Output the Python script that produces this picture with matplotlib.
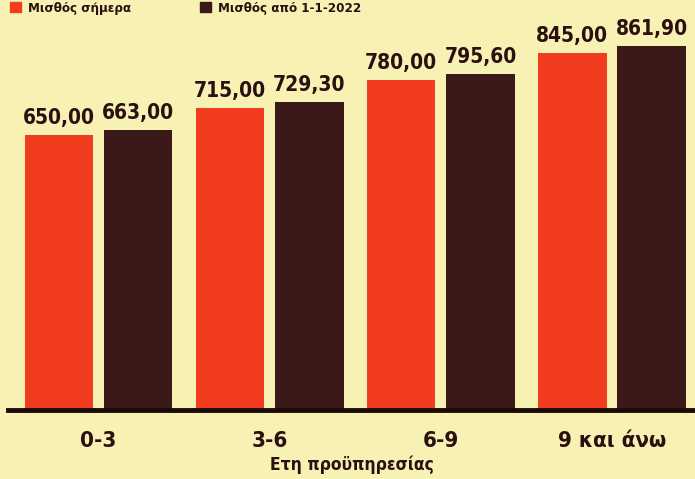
import matplotlib.pyplot as plt
import numpy as np

# data
categories = ["0-3", "3-6", "6-9", "9 και άνω"]
salary_now = [650.00, 715.00, 780.00, 845.00]
salary_2022 = [663.00, 729.30, 795.60, 861.90]
legend_labels = ["Μισθός σήμερα", "Μισθός από 1-1-2022"]

bg = "#f8f1b4"
red = "#f23c1f"
dark = "#3b1919"
txt = "#2a1010"

font = "DejaVu Sans"
stretch = "condensed"

fig = plt.figure(figsize=(6.95, 4.79), dpi=100, facecolor=bg)
ax = fig.add_axes([8 / 695, 69 / 479, 687 / 695, 410 / 479])
ax.set_facecolor(bg)

x = np.arange(len(categories))
w = 0.4
off = 0.232
b1 = ax.bar(x - off, salary_now, w, color=red)
b2 = ax.bar(x + off, salary_2022, w, color=dark)

def fmt(v):
    return f"{v:.2f}".replace(".", ",")

for bars, vals in [(b1, salary_now), (b2, salary_2022)]:
    for b, v in zip(bars, vals):
        ax.annotate(fmt(v), (b.get_x() + b.get_width() / 2, v),
                    xytext=(0, 5), textcoords="offset points",
                    ha="center", va="bottom", fontsize=15, fontweight="bold",
                    family=font, fontstretch=stretch, color=txt)

ax.set_xlim(-0.529, 3.485)
ax.set_ylim(0, 970)
for s in ["top", "right", "left"]:
    ax.spines[s].set_visible(False)
ax.spines["bottom"].set_linewidth(3.5)
ax.spines["bottom"].set_color("#1a0a0a")
ax.set_yticks([])
ax.set_xticks(x)
ax.set_xticklabels(categories, fontsize=16, fontweight="bold", family=font,
                   fontstretch=stretch, color=txt)
ax.tick_params(axis="x", length=0, pad=15)
ax.set_xlabel("Ετη προϋπηρεσίας", fontsize=12.5, fontweight="bold", family=font,
              fontstretch=stretch, color=txt, labelpad=3)

# legend strip at the top edge
fig.patches.append(plt.Rectangle((10 / 695, 1 - 12 / 479), 11 / 695, 10 / 479,
                                 transform=fig.transFigure, color=red, figure=fig))
fig.text(28 / 695, 1 - 2 / 479, legend_labels[0], fontsize=9.5, fontweight="bold",
         family=font, fontstretch=stretch, color=txt, va="top")
fig.patches.append(plt.Rectangle((200 / 695, 1 - 12 / 479), 11 / 695, 10 / 479,
                                 transform=fig.transFigure, color=dark, figure=fig))
fig.text(218 / 695, 1 - 2 / 479, legend_labels[1], fontsize=9.5, fontweight="bold",
         family=font, fontstretch=stretch, color=txt, va="top")

fig.savefig("out.png", dpi=100, facecolor=bg)
